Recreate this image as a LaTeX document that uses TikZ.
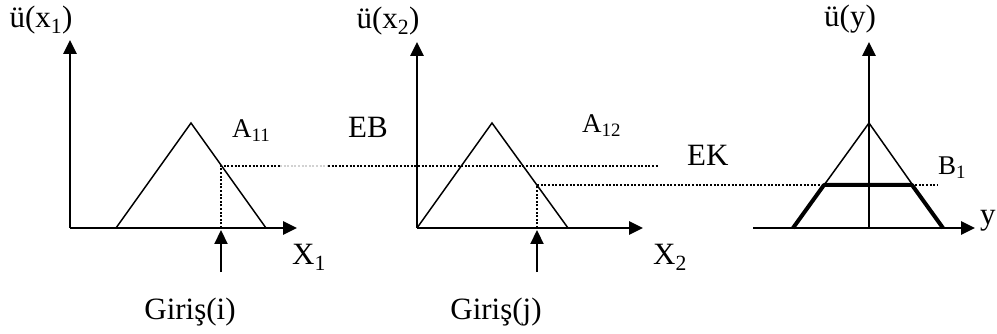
\documentclass[tikz,border=0pt]{standalone}
\usepackage{fontspec}
\setmainfont{Liberation Serif}
\usetikzlibrary{arrows.meta}

\tikzset{
    axis/.style={line width=2.6pt, -{Triangle[length=14pt,width=13pt]}},
    mf/.style={line width=1.5pt},
    cutmf/.style={line width=4pt, line join=round},
    cutline/.style={line width=1.6pt, dash pattern=on 2pt off 1.6pt},
    lbl/.style={inner sep=0pt, anchor=base west, font=\fontsize{31}{36}\selectfont},
    sml/.style={inner sep=0pt, anchor=base west, font=\fontsize{27}{32}\selectfont},
}

\begin{document}
\begin{tikzpicture}[x=1pt, y=-1pt]
    \useasboundingbox (0,0) rectangle (997,334);

    % Points of the first input
    \coordinate (o1) at (70,228);
    \coordinate (y1) at (70,40);
    \coordinate (x1) at (297,228);
    \coordinate (l1) at (116,228);
    \coordinate (p1) at (191,123);
    \coordinate (r1) at (266,228);
    \coordinate (c1) at (221,166);
    \coordinate (b1) at (221,228);
    \coordinate (i1) at (221,272);
    \coordinate (h1) at (221,230);

    % Points of the second input
    \coordinate (o2) at (417,228);
    \coordinate (y2) at (417,42);
    \coordinate (x2) at (643,228);
    \coordinate (p2) at (492,123);
    \coordinate (r2) at (568,228);
    \coordinate (c2) at (537,185);
    \coordinate (b2) at (537,228);
    \coordinate (i2) at (537,272);
    \coordinate (h2) at (537,230);

    % Points of the output
    \coordinate (s3) at (753,228);
    \coordinate (o3) at (869,228);
    \coordinate (y3) at (869,42);
    \coordinate (x3) at (975,228);
    \coordinate (l3) at (793,228);
    \coordinate (p3) at (869,123);
    \coordinate (r3) at (943,228);
    \coordinate (ml3) at (824,185);
    \coordinate (mr3) at (912,185);

    % Dotted cut lines
    \draw[cutline] (b1) -- (c1) -- (280,166);
    \draw[cutline, gray!35] (280,166) -- (328,166);
    \draw[cutline] (328,166) -- (658,166);
    \draw[cutline] (b2) -- (c2) -- (937,185);

    % Axes
    \draw[axis] (o1) -- (y1);
    \draw[axis] (o1) -- (x1);
    \draw[axis] (o2) -- (y2);
    \draw[axis] (o2) -- (x2);
    \draw[axis] (o3) -- (y3);
    \draw[axis] (s3) -- (x3);

    % Membership functions
    \draw[mf] (l1) -- (p1) -- (r1);
    \draw[mf] (o2) -- (p2) -- (r2);
    \draw[mf] (l3) -- (p3) -- (r3);
    \draw[cutmf] (l3) -- (ml3) -- (mr3) -- (r3);

    % Inputs
    \draw[axis, line width=2.2pt] (i1) -- (h1);
    \draw[axis, line width=2.2pt] (i2) -- (h2);

    % Labels
    \node[lbl, anchor=base] (ux1) at (41,28) {ü(x\textsubscript{1})};
    \node[lbl, anchor=base] (ux2) at (388,29) {ü(x\textsubscript{2})};
    \node[lbl, anchor=base] (uy) at (850,27) {ü(y)};
    \node[sml] (a11) at (232,138) {A\textsubscript{11}};
    \node[sml] (a12) at (582,133) {A\textsubscript{12}};
    \node[sml] (bb1) at (938,175) {B\textsubscript{1}};
    \node[lbl] (eb) at (348,138) {EB};
    \node[lbl] (ek) at (687,166) {EK};
    \node[lbl] (lx1) at (292,265) {X\textsubscript{1}};
    \node[lbl] (lx2) at (653,265) {X\textsubscript{2}};
    \node[lbl] (ly) at (980,225) {y};
    \node[lbl, anchor=base] (gi) at (190,319) {Giriş(i)};
    \node[lbl, anchor=base] (gj) at (496,319) {Giriş(j)};
\end{tikzpicture}
\end{document}
